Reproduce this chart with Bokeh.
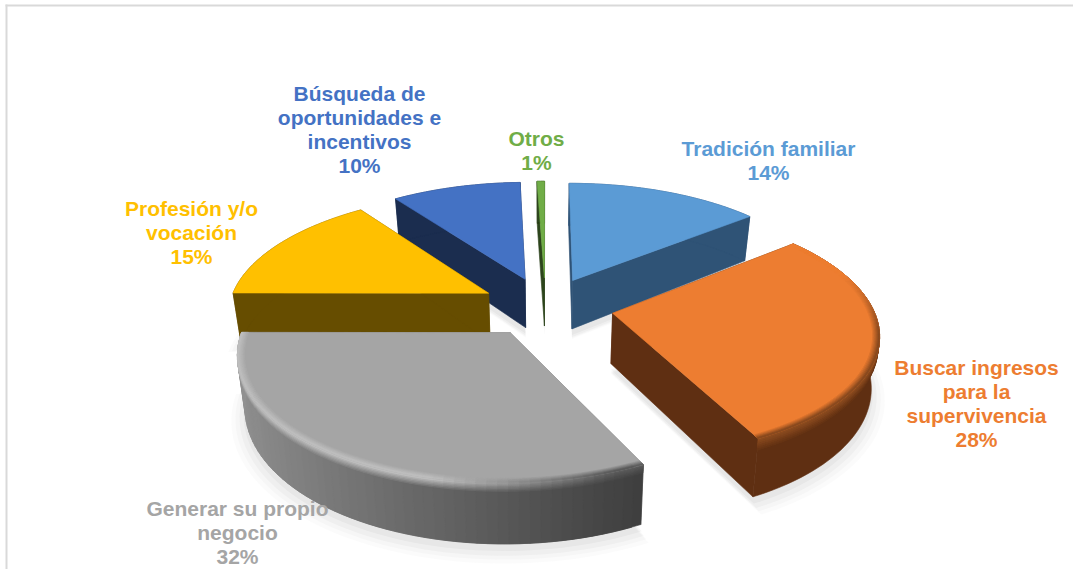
import numpy as np
from bokeh.plotting import figure
from bokeh.core.properties import value
from bokeh.embed import file_html
from bokeh.resources import INLINE

# ---- data ----
categories = ["Tradición familiar", "Buscar ingresos para la supervivencia", "Generar su propio negocio",
              "Profesión y/o vocación", "Búsqueda de oportunidades e incentivos", "Otros"]
values = [14.2, 28.45, 32.38, 15.0, 9.42, 0.55]
percent_labels = ["14%", "28%", "32%", "15%", "10%", "1%"]
label_lines = [["Tradición familiar", "14%"],
               ["Buscar ingresos", "para la", "supervivencia", "28%"],
               ["Generar su propio", "negocio", "32%"],
               ["Profesión y/o", "vocación", "15%"],
               ["Búsqueda de", "oportunidades e", "incentivos", "10%"],
               ["Otros", "1%"]]
label_centers = [(768, 148), (976, 367), (237, 508), (191, 208), (359, 93), (536, 138)]
top_colors = ["#5b9bd5", "#ed7d31", "#a5a5a5", "#ffc000", "#4472c4", "#70ad47"]
wall_colors = ["#2f5376", "#5f2f12", "#7a7a7a", "#664d00", "#1b2d4f", "#2d451c"]
text_colors = top_colors
explosions = [0.25, 0.262, 0.25, 0.25, 0.25, 0.25]

# ---- projection of the exploded 3D pie ----
CX, CY, A, B, K, D, SHRINK = 545.0, 306.0, 260.0, 119.0, 0.15, 50.0, 0.975
edges = np.cumsum([0] + values) / sum(values) * 2 * np.pi
W, H = 1073, 569


def project(X, Y, z=0.0):
    """z = 0 on top face, z = 1 on the bottom face"""
    w = 1 + K * Y
    s = 1 + (SHRINK - 1) * z
    return CX + s * A * X / w, CY - B * Y / w + z * D / w


def arc(a0, a1, off, r=1.0, n=60):
    th = np.linspace(a0, a1, n)
    return off[0] + r * np.sin(th), off[1] + r * np.cos(th)


def mix(c0, c1, t):
    a = [int(c0[i:i + 2], 16) for i in (1, 3, 5)]
    b = [int(c1[i:i + 2], 16) for i in (1, 3, 5)]
    return "#%02x%02x%02x" % tuple(round(a[i] + (b[i] - a[i]) * t) for i in range(3))


p = figure(width=W, height=H, x_range=(0, W), y_range=(H, 0), toolbar_location=None,
           output_backend="svg", min_border=0, outline_line_color=None, background_fill_color="white",
           border_fill_color="white")
p.axis.visible = False
p.grid.visible = False
p.styles = {"position": "absolute", "left": "0px", "top": "0px"}

# frame
p.segment([5, 6], [5, 4], [W, 6], [5, H], line_color="#d9d9d9", line_width=2)


def fill(xs, ys, color, alpha=1.0):
    p.patch(list(xs), list(ys), fill_color=color, fill_alpha=alpha, line_color=color if alpha == 1 else None,
            line_width=0.6, line_alpha=alpha)


offsets = []
for i in range(len(values)):
    mid = (edges[i] + edges[i + 1]) / 2
    offsets.append((explosions[i] * np.sin(mid), explosions[i] * np.cos(mid)))

# soft shadows under the slices
for i in range(len(values)):
    a0, a1 = edges[i], edges[i + 1]
    for grow, dy, al in [(1.05, 10, .035), (1.035, 9, .045), (1.02, 8, .06), (1.005, 6, .07)]:
        ax, ay = arc(a0, a1, offsets[i], grow)
        xs = np.r_[offsets[i][0], ax]
        ys = np.r_[offsets[i][1], ay]
        sx, sy = project(xs, ys, 1.0)
        fill(sx, sy + dy, "#808080", al)

# painter's order: far slices first
order = [0, 4, 5, 3, 1, 2]
gray_left, gray_right = "#929292", "#3f3f3f"
for i in order:
    a0, a1 = edges[i], edges[i + 1]
    off = offsets[i]
    top, wall = top_colors[i], wall_colors[i]
    ax, ay = arc(a0, a1, off)
    apx, apy = off
    last = len(ax) - 1
    # radial walls
    for end in (0, -1):
        xs = np.array([apx, ax[end]])
        ys = np.array([apy, ay[end]])
        x0, y0 = project(xs, ys, 0.0)
        x1, y1 = project(xs, ys, 1.0)
        fill(np.r_[x0, x1[::-1]], np.r_[y0, y1[::-1]], wall)
    # outer wall
    x0, y0 = project(ax, ay, 0.0)
    x1, y1 = project(ax, ay, 1.0)
    if i == 2:
        for j in range(last):
            e = min(j + 2, last)
            c = mix(gray_left, gray_right, (ax[j] - ax.min()) / (ax.max() - ax.min()))
            fill([x0[j], x0[e], x1[e], x1[j]], [y0[j], y0[e], y1[e], y1[j]], c)
    else:
        fill(np.r_[x0, x1[::-1]], np.r_[y0, y1[::-1]], wall)

    # upper part of the wall: soft transition below the rim (painted before the top face)
    if i in (1, 2):
        m = 6
        zs = np.linspace(0, 0.2 if i == 1 else 0.14, m + 1)
        for j in reversed(range(m)):
            t = j / m
            sax, say = project(ax, ay, zs[j])
            sbx, sby = project(ax, ay, zs[j + 1])
            for k in range(last):
                e = min(k + 2, last)
                if i == 1:
                    vis = np.clip((-(ay[k] - off[1]) + 0.35) / 0.5, 0, 1)
                    c = mix(mix(wall, "#8a4a1f", vis), wall, t)
                else:
                    u = (ax[k] - ax.min()) / (ax.max() - ax.min())
                    base = mix(gray_left, gray_right, u)
                    rim = mix("#bdbdbd", "#5a5a5a", min(1, max(0, (u - .55) / .4)))
                    c = mix(rim, base, t)
                fill([sax[k], sax[e], sbx[e], sbx[k]], [say[k], say[e], sby[e], sby[k]], c)

    # top face
    xs = np.r_[apx, ax]
    ys = np.r_[apy, ay]
    sx, sy = project(xs, ys, 0.0)
    fill(sx, sy, top)

    # bevel strips on the near rim, on the top face
    if i in (1, 2):
        n = 6
        rs = np.linspace(0.975, 1.0, n + 1)
        for j in range(n):
            t = (j + 1) / n
            bx0, by0 = arc(a0, a1, off, rs[j])
            bx1, by1 = arc(a0, a1, off, rs[j + 1])
            s0x, s0y = project(bx0, by0)
            s1x, s1y = project(bx1, by1)
            for k in range(last):
                e = min(k + 2, last)
                if i == 1:
                    vis = np.clip((-(by0[k] - off[1]) + 0.35) / 0.5, 0, 1)
                    c = mix(top, "#8a4a1f", t * vis)
                else:
                    u = (bx0[k] - bx0.min()) / (bx0.max() - bx0.min())
                    rim = mix("#bdbdbd", "#5a5a5a", min(1, max(0, (u - .55) / .4)))
                    c = mix(top, rim, t)
                fill([s0x[k], s0x[e], s1x[e], s1x[k]], [s0y[k], s0y[e], s1y[e], s1y[k]], c)

# labels
line_height = 24
for lines, (lx, ly), color in zip(label_lines, label_centers, text_colors):
    for n, t in enumerate(lines):
        p.text([lx], [ly + n * line_height], text=[t], text_color=color, text_align="center",
               text_baseline="middle", text_font=value("Liberation Sans"), text_font_style="bold",
               text_font_size="21px")

open("out.html", "w").write(file_html(p, INLINE))
